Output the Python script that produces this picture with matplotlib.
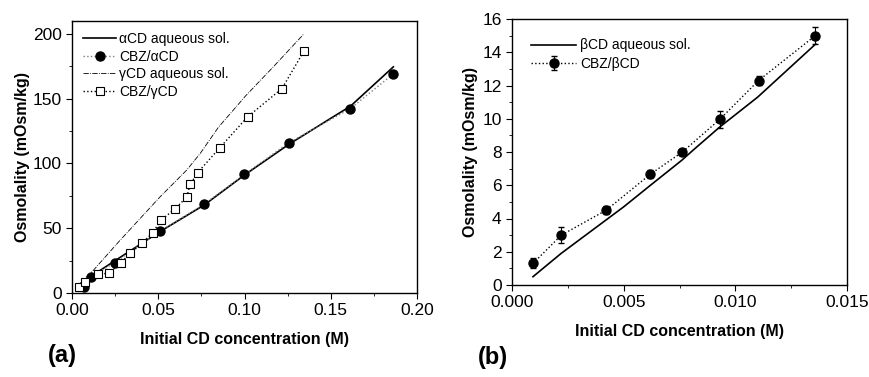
import numpy as np
import matplotlib.pyplot as plt
from matplotlib.ticker import MultipleLocator

plt.rcParams['font.family'] = ['Liberation Sans', 'DejaVu Sans']

# panel (a)
a_line_x = [0.009, 0.0112, 0.025, 0.0511, 0.0766, 0.0999, 0.1256, 0.1514, 0.1614, 0.1863]
a_line_y = [8.7, 13.0, 25.0, 47.5, 67.9, 91.0, 114.7, 136.0, 144.2, 174.6]
a_pts_x = [0.0068, 0.0112, 0.0247, 0.0511, 0.0766, 0.0999, 0.1256, 0.1614, 0.1863]
a_pts_y = [4.4, 12.6, 23.4, 47.8, 68.6, 91.5, 115.9, 142.4, 169.2]
g_line_x = [0.0048, 0.0125, 0.028, 0.0511, 0.0665, 0.0743, 0.0849, 0.101, 0.1167, 0.1344]
g_line_y = [7.5, 17.7, 40.9, 74.3, 94.9, 107.7, 128.0, 152.7, 174.6, 200.0]
g_pts_x = [0.0042, 0.0075, 0.0149, 0.0214, 0.0282, 0.0338, 0.0405, 0.0467, 0.0517,
           0.0596, 0.0665, 0.0685, 0.0729, 0.0858, 0.1018, 0.1217, 0.1344]
g_pts_y = [4.4, 8.7, 14.7, 15.2, 23.4, 30.6, 38.3, 46.5, 56.3,
           64.8, 74.0, 83.8, 93.0, 112.3, 136.0, 157.8, 186.6]

# panel (b)
b_line_x = [0.00094, 0.0022, 0.0042, 0.005, 0.0062, 0.0076, 0.0081, 0.0093, 0.011, 0.0136]
b_line_y = [0.5, 1.9, 3.9, 4.7, 6.0, 7.5, 8.1, 9.5, 11.3, 14.5]
b_pts_x = [0.00094, 0.00221, 0.00422, 0.0062, 0.00763, 0.00931, 0.01104, 0.01358]
b_pts_y = [1.3, 3.0, 4.5, 6.67, 8.0, 9.97, 12.3, 15.0]
b_err = [0.3, 0.5, 0.25, 0.25, 0.2, 0.5, 0.25, 0.5]

fig = plt.figure(figsize=(8.69, 3.77), dpi=100)
ax1 = fig.add_axes([72/869, 1-293/377, 345/869, 272/377])
ax2 = fig.add_axes([512/869, 1-285/377, 335/869, 266/377])

ax1.plot(a_line_x, a_line_y, '-', color='black', lw=1.2, label='αCD aqueous sol.')
ax1.plot(a_pts_x, a_pts_y, ':', color='gray', lw=1, marker='o', ms=6.5,
         mfc='black', mec='black', label='CBZ/αCD')
ax1.plot(g_line_x, g_line_y, '-.', color='black', lw=0.6, label='γCD aqueous sol.')
ax1.plot(g_pts_x, g_pts_y, ':', color='black', lw=1, marker='s', ms=6,
         mfc='white', mec='black', mew=0.8, label='CBZ/γCD')
ax1.set_xlim(0, 0.20)
ax1.set_ylim(0, 210)
ax1.xaxis.set_major_locator(MultipleLocator(0.05))
ax1.xaxis.set_minor_locator(MultipleLocator(0.025))
ax1.yaxis.set_major_locator(MultipleLocator(50))
ax1.yaxis.set_minor_locator(MultipleLocator(25))
ax1.xaxis.set_major_formatter(plt.FuncFormatter(lambda v, p: '%.2f' % v))
ax1.set_xlabel('Initial CD concentration (M)', fontweight='bold', fontsize=11.5, labelpad=10)
ax1.set_ylabel('Osmolality (mOsm/kg)', fontweight='bold', fontsize=11.5, labelpad=2)
ax1.legend(loc='upper left', frameon=False, fontsize=10, handlelength=2.4,
           labelspacing=0.25, borderaxespad=0.4, handletextpad=0.2)
fig.text(48/869, 1-362/377, '(a)', fontsize=17, fontweight='bold')

ax2.plot(b_line_x, b_line_y, '-', color='black', lw=1.2, label='βCD aqueous sol.')
ax2.errorbar(b_pts_x, b_pts_y, yerr=b_err, fmt='o', ls=':', color='black', lw=1,
             ms=6.5, capsize=2.5, elinewidth=0.8, label='CBZ/βCD')
ax2.set_xlim(0, 0.015)
ax2.set_ylim(0, 16)
ax2.xaxis.set_major_locator(MultipleLocator(0.005))
ax2.xaxis.set_minor_locator(MultipleLocator(0.0025))
ax2.yaxis.set_major_locator(MultipleLocator(2))
ax2.yaxis.set_minor_locator(MultipleLocator(1))
ax2.xaxis.set_major_formatter(plt.FuncFormatter(lambda v, p: '%.3f' % v))
ax2.set_xlabel('Initial CD concentration (M)', fontweight='bold', fontsize=11.5, labelpad=10)
ax2.set_ylabel('Osmolality (mOsm/kg)', fontweight='bold', fontsize=11.5, labelpad=3)
ax2.legend(loc='upper left', frameon=False, fontsize=10, handlelength=3.2,
           labelspacing=0.3, borderaxespad=1.0, handletextpad=0.3)
fig.text(478/869, 1-364/377, '(b)', fontsize=17, fontweight='bold')

for ax in (ax1, ax2):
    ax.tick_params(which='both', direction='out', labelsize=12.5)
    ax.tick_params(which='major', length=4)
    ax.tick_params(which='minor', length=2.5)
    for s in ax.spines.values():
        s.set_linewidth(1)

fig.savefig('out.png', dpi=100)
